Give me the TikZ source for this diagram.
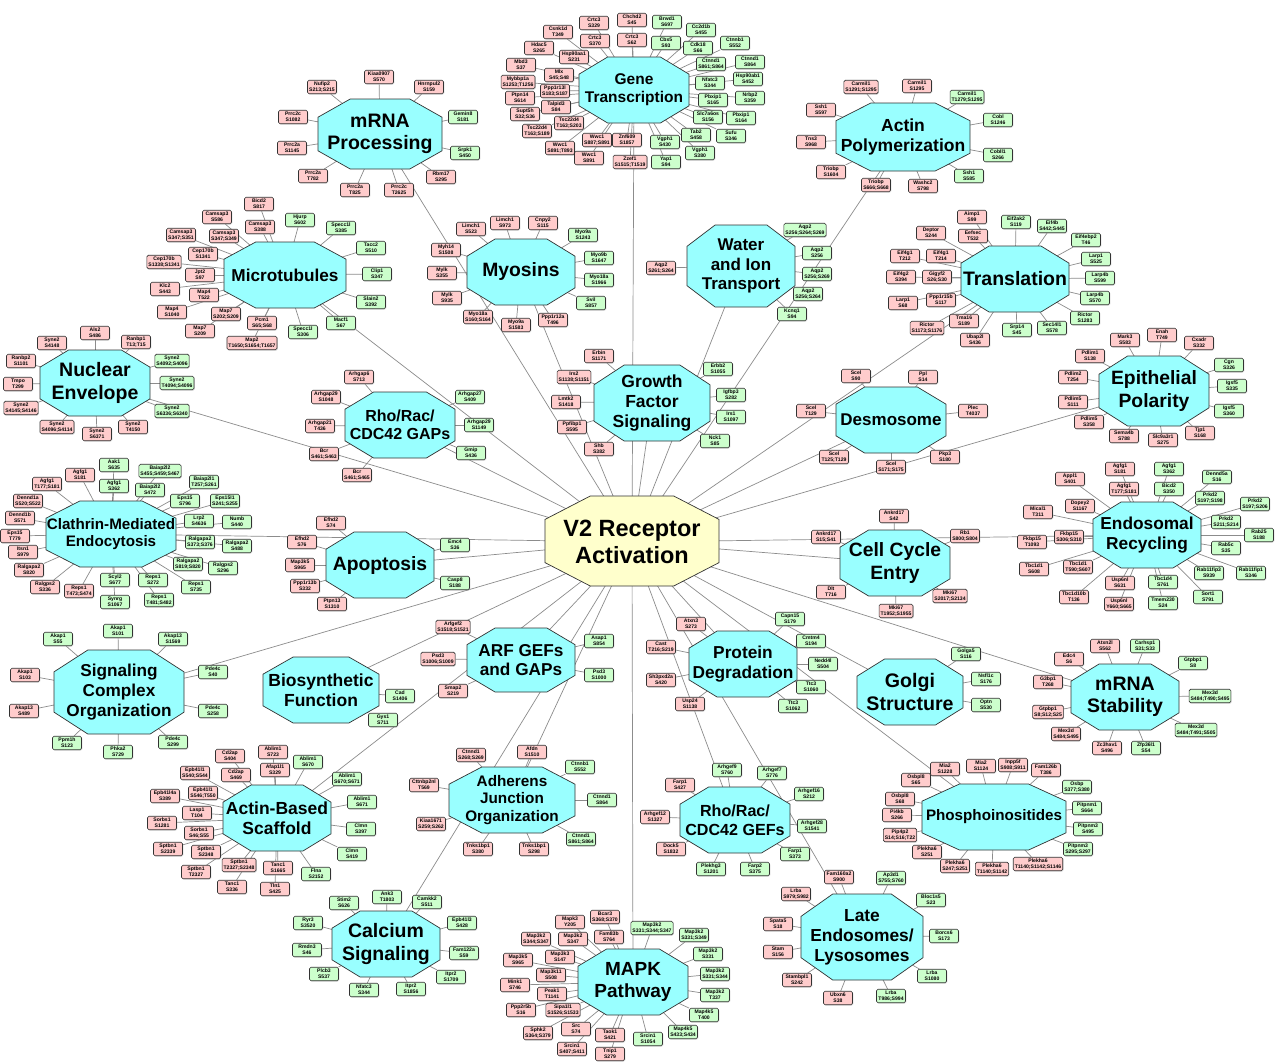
\documentclass[tikz,border=0pt]{standalone}
\usepackage{fontspec}
\setmainfont{Liberation Sans}
\usetikzlibrary{shadows}
\definecolor{pinkc}{RGB}{255,204,204}
\definecolor{greenc}{RGB}{204,255,204}
\definecolor{hubc}{RGB}{153,255,255}
\definecolor{v2c}{RGB}{255,255,204}
\definecolor{edgec}{RGB}{140,140,140}
\definecolor{bordc}{RGB}{50,50,50}
\pgfdeclarelayer{bglayer}
\pgfdeclarelayer{edgelayer}
\pgfdeclarelayer{hublayer}
\pgfsetlayers{bglayer,edgelayer,hublayer,main}
\newcounter{cc}
\tikzset{
  pbox/.style={draw=bordc,line width=0.6pt,fill=pinkc,rounded corners=1.5pt,inner xsep=1.5pt,inner ysep=1pt,
     font=\fontsize{5.1}{6.2}\selectfont\bfseries,align=center,minimum width=29pt,minimum height=13.5pt,
     drop shadow={shadow xshift=0.8pt,shadow yshift=-0.8pt,fill=black!30}},
  gbox/.style={pbox,fill=greenc},
  hubshape/.style={draw=bordc,line width=0.7pt,fill=hubc},
  v2shape/.style={hubshape,fill=v2c},
  link/.style={draw=edgec,line width=0.7pt},
}
\newcommand\edgelist{}
\newcommand\octlist{}
\newcommand\addedge[2]{\xdef\edgelist{\unexpanded\expandafter{\edgelist}\noexpand\draw[link] (#1) -- (#2);}}
\newcommand\octdraw[5]{%
  \filldraw[#1] ({#2-0.48*#4},{#3-#5}) -- ({#2+0.48*#4},{#3-#5}) -- ({#2+#4},{#3-0.48*#5}) -- ({#2+#4},{#3+0.48*#5}) -- ({#2+0.48*#4},{#3+#5}) -- ({#2-0.48*#4},{#3+#5}) -- ({#2-#4},{#3+0.48*#5}) -- ({#2-#4},{#3-0.48*#5}) -- cycle;}
\newcommand\addoct[5]{\xdef\octlist{\unexpanded\expandafter{\octlist}\noexpand\octdraw{#1}{#2}{#3}{#4}{#5}}}
\newcommand\hub[7]{%
  \addoct{hubshape}{#2}{#3}{#4}{#5}%
  \node[inner sep=0pt,align=center,font=\fontsize{#6}{\fpeval{1.15*#6}}\selectfont\bfseries] (#1) at (#2,#3) {#7};
  \addedge{v2}{#1}}
\newcommand\C[5]{%
  \stepcounter{cc}%
  \node[#4box] (n\thecc) at (#2,#3) {#5};
  \addedge{#1}{n\thecc}}
\begin{document}
\begin{tikzpicture}[x=1pt,y=-1pt]
\useasboundingbox (0,0) rectangle (1276,1061);
% central node
\addoct{v2shape}{632}{541}{87}{45}
\node[inner sep=0pt,align=center,font=\fontsize{23.5}{27}\selectfont\bfseries] (v2) at (632,542) {V2 Receptor\\Activation};

% mRNA Processing
\hub{mrp}{380}{134}{62}{35}{19.5}{mRNA\\Processing}
\C{mrp}{379}{77}{p}{Kiaa0907\\S570}
\C{mrp}{322}{87}{p}{Nufip2\\S213;S215}
\C{mrp}{429}{87}{p}{Hnrnpul2\\S159}
\C{mrp}{463}{117}{g}{Gemin8\\S181}
\C{mrp}{465}{153}{g}{Srpk1\\S450}
\C{mrp}{441}{177}{p}{Rbm17\\S295}
\C{mrp}{399}{190}{p}{Prrc2c\\T2625}
\C{mrp}{355}{190}{p}{Prrc2a\\T825}
\C{mrp}{313}{176}{p}{Prrc2a\\T782}
\C{mrp}{292}{148}{p}{Prrc2a\\S1145}
\C{mrp}{293}{117}{p}{Prrc2c\\S1082}

% Gene Transcription
\hub{gt}{634}{90}{55}{33}{15.5}{Gene\\Transcription}
\C{gt}{558}{32}{p}{Csnk1d\\T349}
\C{gt}{594}{23}{p}{Crtc3\\S329}
\C{gt}{595}{41}{p}{Crtc3\\S370}
\C{gt}{632}{20}{p}{Chchd2\\S45}
\C{gt}{632}{40}{p}{Crtc3\\S62}
\C{gt}{539}{48}{p}{Hdac5\\S265}
\C{gt}{574}{57}{p}{Hsp90aa1\\S231}
\C{gt}{521}{65}{p}{Mbd3\\S37}
\C{gt}{559}{75}{p}{Mlx\\S45;S48}
\C{gt}{518}{82}{p}{Mybbp1a\\S1253;T1256}
\C{gt}{555}{91}{p}{Ppp1r13l\\S183;S187}
\C{gt}{520}{98}{p}{Ptpn14\\S614}
\C{gt}{556}{107}{p}{Talpid3\\S84}
\C{gt}{525}{114}{p}{Supt5h\\S32;S36}
\C{gt}{569}{123}{p}{Tsc22d4\\T163;S203}
\C{gt}{537}{131}{p}{Tsc22d4\\T163;S189}
\C{gt}{597}{140}{p}{Wwc1\\S887;S891}
\C{gt}{560}{148}{p}{Wwc1\\S891;T893}
\C{gt}{589}{158}{p}{Wwc1\\S891}
\C{gt}{627}{140}{p}{Znf609\\S1857}
\C{gt}{630}{162}{p}{Zzef1\\S1515;T1519}
\C{gt}{667}{22}{g}{Brwd1\\S697}
\C{gt}{666}{43}{g}{Cbx5\\S93}
\C{gt}{701}{30}{g}{Cc2d1b\\S455}
\C{gt}{698}{48}{g}{Cdk18\\S66}
\C{gt}{735}{43}{g}{Ctnnb1\\S552}
\C{gt}{711}{64}{g}{Ctnnd1\\S861;S864}
\C{gt}{750}{62}{g}{Ctnnd1\\S864}
\C{gt}{710}{83}{g}{Nfatc3\\S344}
\C{gt}{748}{79}{g}{Hsp90ab1\\S452}
\C{gt}{713}{100}{g}{Pbxip1\\S165}
\C{gt}{750}{98}{g}{Nrbp2\\S359}
\C{gt}{708}{117}{g}{Slc7a6os\\S156}
\C{gt}{741}{118}{g}{Pbxip1\\S164}
\C{gt}{696}{135}{g}{Tab2\\S458}
\C{gt}{731}{136}{g}{Sufu\\S346}
\C{gt}{665}{142}{g}{Vgph1\\S430}
\C{gt}{700}{153}{g}{Vgph1\\S380}
\C{gt}{666}{162}{g}{Yap1\\S94}

% Actin Polymerization
\hub{ap}{903}{137}{67}{34}{17.5}{Actin\\Polymerization}
\C{ap}{861}{87}{p}{Carmil1\\S1291;S1295}
\C{ap}{917}{86}{p}{Carmil1\\S1295}
\C{ap}{967}{97}{g}{Carmil1\\T1279;S1295}
\C{ap}{998}{120}{g}{Cobl\\S1246}
\C{ap}{998}{155}{g}{Cobll1\\S266}
\C{ap}{969}{176}{g}{Ssh1\\S585}
\C{ap}{821}{110}{p}{Ssh1\\S597}
\C{ap}{811}{142}{p}{Tns3\\S968}
\C{ap}{831}{172}{p}{Triobp\\S1604}
\C{ap}{876}{185}{p}{Triobp\\S666;S668}
\C{ap}{923}{186}{p}{Washc2\\S798}

% Water and Ion Transport
\hub{wit}{741}{266}{54}{41}{17}{Water\\and Ion\\Transport}
\C{wit}{805}{230}{g}{Aqp2\\S256;S264;S269}
\C{wit}{817}{253}{g}{Aqp2\\S256}
\C{wit}{817}{274}{g}{Aqp2\\S256;S269}
\C{wit}{808}{294}{g}{Aqp2\\S256;S264}
\C{wit}{792}{314}{g}{Kcnq1\\S94}
\C{wit}{661}{268}{p}{Aqp2\\S261;S264}

% Translation
\hub{tr}{1015}{279}{54}{33}{19.5}{Translation}
\C{tr}{972}{217}{p}{Aimp1\\S99}
\C{tr}{973}{236}{p}{Eefsec\\T532}
\C{tr}{931}{233}{p}{Deptor\\S244}
\C{tr}{905}{256}{p}{Eif4g1\\T212}
\C{tr}{941}{256}{p}{Eif4g1\\T214}
\C{tr}{901}{277}{p}{Eif4g2\\S394}
\C{tr}{937}{277}{p}{Gigyf2\\S26;S30}
\C{tr}{903}{303}{p}{Larp1\\S68}
\C{tr}{941}{300}{p}{Ppp1r15b\\S117}
\C{tr}{927}{328}{p}{Rictor\\S1173;S1176}
\C{tr}{964}{321}{p}{Tma16\\S189}
\C{tr}{975}{340}{p}{Ubap2l\\S436}
\C{tr}{1016}{222}{g}{Eif2ak2\\S119}
\C{tr}{1052}{226}{g}{Eif4b\\S442;S445}
\C{tr}{1086}{240}{g}{Eif4ebp2\\T46}
\C{tr}{1096}{259}{g}{Larp1\\S525}
\C{tr}{1100}{278}{g}{Larp4b\\S599}
\C{tr}{1095}{298}{g}{Larp4b\\S570}
\C{tr}{1085}{318}{g}{Rictor\\S1283}
\C{tr}{1052}{328}{g}{Sec14l1\\S578}
\C{tr}{1017}{330}{g}{Srp14\\S45}

% Myosins
\hub{my}{521}{272}{54}{33}{19.3}{Myosins}
\C{my}{471}{229}{p}{Limch1\\S523}
\C{my}{505}{223}{p}{Limch1\\S973}
\C{my}{543}{223}{p}{Cnpy2\\S115}
\C{my}{446}{250}{p}{Myh14\\S1508}
\C{my}{442}{273}{p}{Mylk\\S355}
\C{my}{447}{298}{p}{Mylk\\S935}
\C{my}{478}{317}{p}{Myo18a\\S160;S164}
\C{my}{516}{325}{p}{Myo9a\\S1583}
\C{my}{553}{320}{p}{Ppp1r12a\\T496}
\C{my}{583}{235}{g}{Myo9a\\S1243}
\C{my}{599}{258}{g}{Myo9b\\S1647}
\C{my}{599}{280}{g}{Myo18a\\S1966}
\C{my}{591}{303}{g}{Svil\\S857}

% Microtubules
\hub{mt}{285}{275}{61}{33}{17.2}{Microtubules}
\C{mt}{259}{204}{p}{Bicd2\\S817}
\C{mt}{217}{217}{p}{Camsap3\\S586}
\C{mt}{260}{227}{p}{Camsap3\\S388}
\C{mt}{181}{235}{p}{Camsap3\\S347;S351}
\C{mt}{224}{236}{p}{Camsap3\\S347;S349}
\C{mt}{203}{254}{p}{Cep170b\\S1341}
\C{mt}{164}{262}{p}{Cep170b\\S1338;S1341}
\C{mt}{200}{275}{p}{Jpt2\\S97}
\C{mt}{165}{289}{p}{Klc2\\S443}
\C{mt}{204}{295}{p}{Map4\\T522}
\C{mt}{172}{312}{p}{Map4\\S1040}
\C{mt}{226}{314}{p}{Map7\\S202;S209}
\C{mt}{200}{331}{p}{Map7\\S209}
\C{mt}{262}{323}{p}{Pcm1\\S65;S68}
\C{mt}{252}{343}{p}{Map2\\T1650;S1654;T1657}
\C{mt}{300}{220}{g}{Hjurp\\S602}
\C{mt}{341}{228}{g}{Specc1l\\S385}
\C{mt}{371}{248}{g}{Tacc2\\S510}
\C{mt}{377}{274}{g}{Clip1\\S347}
\C{mt}{371}{302}{g}{Slain2\\S392}
\C{mt}{341}{323}{g}{Macf1\\S67}
\C{mt}{303}{332}{g}{Specc1l\\S306}

% Nuclear Envelope
\hub{ne}{95}{383}{55}{33}{19.5}{Nuclear\\Envelope}
\C{ne}{95}{333}{p}{Als2\\S486}
\C{ne}{52}{343}{p}{Syne2\\S4148}
\C{ne}{136}{342}{p}{Ranbp1\\T13;T15}
\C{ne}{21}{361}{p}{Ranbp2\\S1101}
\C{ne}{18}{384}{p}{Tmpo\\T299}
\C{ne}{21}{408}{p}{Syne2\\S4145;S4146}
\C{ne}{57}{427}{p}{Syne2\\S4096;S4114}
\C{ne}{97}{434}{p}{Syne2\\S6371}
\C{ne}{133}{427}{p}{Syne2\\T4150}
\C{ne}{172}{361}{g}{Syne2\\S4092;S4096}
\C{ne}{177}{383}{g}{Syne2\\T4094;S4096}
\C{ne}{172}{411}{g}{Syne2\\S6336;S6340}

% Rho/Rac/CDC42 GAPs
\hub{gap}{400}{425}{55}{33}{16}{Rho/Rac/\\CDC42 GAPs}
\C{gap}{359}{377}{p}{Arhgap6\\S713}
\C{gap}{326}{397}{p}{Arhgap29\\S1048}
\C{gap}{320}{426}{p}{Arhgap21\\T436}
\C{gap}{324}{454}{p}{Bcr\\S461;S463}
\C{gap}{357}{475}{p}{Bcr\\S461;S465}
\C{gap}{470}{397}{g}{Arhgap27\\S409}
\C{gap}{479}{425}{g}{Arhgap29\\S1149}
\C{gap}{471}{453}{g}{Gmip\\S436}

% Growth Factor Signaling
\hub{gf}{652}{403}{58}{38}{17.5}{Growth\\Factor\\Signaling}
\C{gf}{599}{356}{p}{Erbin\\S1171}
\C{gf}{574}{377}{p}{Irs2\\S1138;S1151}
\C{gf}{566}{402}{p}{Lmtk2\\S1418}
\C{gf}{572}{427}{p}{Ppfibp1\\S595}
\C{gf}{599}{449}{p}{Shb\\S382}
\C{gf}{718}{369}{g}{Erbb2\\S1055}
\C{gf}{731}{395}{g}{Igfbp3\\S282}
\C{gf}{731}{417}{g}{Irs1\\S1097}
\C{gf}{715}{441}{g}{Nck1\\S85}

% Desmosome
\hub{ds}{891}{420}{55}{33}{17}{Desmosome}
\C{ds}{856}{376}{p}{Scel\\S90}
\C{ds}{923}{377}{p}{Ppl\\S14}
\C{ds}{811}{411}{p}{Scel\\T129}
\C{ds}{973}{411}{p}{Plec\\T4037}
\C{ds}{834}{457}{p}{Scel\\T125;T129}
\C{ds}{891}{467}{p}{Scel\\S171;S175}
\C{ds}{945}{457}{p}{Pkp3\\S180}

% Epithelial Polarity
\hub{ep}{1154}{391}{55}{35}{19.3}{Epithelial\\Polarity}
\C{ep}{1090}{356}{p}{Pdlim1\\S138}
\C{ep}{1125}{340}{p}{Mark3\\S583}
\C{ep}{1162}{335}{p}{Enah\\T749}
\C{ep}{1199}{343}{p}{Cxadr\\S332}
\C{ep}{1200}{433}{p}{Tjp1\\S168}
\C{ep}{1163}{440}{p}{Slc9a3r1\\S275}
\C{ep}{1124}{436}{p}{Sema4b\\S788}
\C{ep}{1089}{422}{p}{Pdlim5\\S358}
\C{ep}{1073}{402}{p}{Pdlim5\\S111}
\C{ep}{1073}{377}{p}{Pdlim2\\T254}
\C{ep}{1229}{365}{g}{Cgn\\S326}
\C{ep}{1232}{386}{g}{Igsf5\\S335}
\C{ep}{1229}{411}{g}{Igsf5\\S360}

% Endosomal Recycling
\hub{er}{1147}{535}{54}{33}{17.3}{Endosomal\\Recycling}
\C{er}{1070}{479}{p}{Appl1\\S401}
\C{er}{1120}{469}{p}{Agfg1\\S181}
\C{er}{1124}{489}{p}{Agfg1\\T177;S181}
\C{er}{1080}{506}{p}{Dopey2\\S1167}
\C{er}{1038}{512}{p}{Mical1\\T311}
\C{er}{1069}{537}{p}{Fkbp15\\S306;S310}
\C{er}{1032}{542}{p}{Fkbp15\\T1093}
\C{er}{1034}{569}{p}{Tbc1d1\\S608}
\C{er}{1078}{567}{p}{Tbc1d1\\T590;S607}
\C{er}{1074}{597}{p}{Tbc1d10b\\T136}
\C{er}{1120}{583}{p}{Usp6nl\\S631}
\C{er}{1119}{604}{p}{Usp6nl\\Y660;S665}
\C{er}{1169}{469}{g}{Agfg1\\S362}
\C{er}{1169}{489}{g}{Bicd2\\S350}
\C{er}{1217}{477}{g}{Dennd5a\\S16}
\C{er}{1210}{498}{g}{Prkd2\\S197;S198}
\C{er}{1255}{504}{g}{Prkd2\\S197;S206}
\C{er}{1226}{522}{g}{Prkd2\\S211;S214}
\C{er}{1259}{535}{g}{Rab25\\S188}
\C{er}{1226}{548}{g}{Rab5c\\S35}
\C{er}{1251}{573}{g}{Rab11fip1\\S346}
\C{er}{1209}{573}{g}{Rab11fip3\\S939}
\C{er}{1208}{597}{g}{Sort1\\S791}
\C{er}{1163}{582}{g}{Tbc1d4\\S761}
\C{er}{1163}{603}{g}{Tmem230\\S24}

% Cell Cycle Entry
\hub{cce}{895}{563}{55}{33}{19.3}{Cell Cycle\\Entry}
\C{cce}{894}{516}{p}{Ankrd17\\S42}
\C{cce}{826}{537}{p}{Ankrd17\\S15;S41}
\C{cce}{965}{536}{p}{Rb1\\S800;S804}
\C{cce}{831}{592}{p}{Dlt\\T716}
\C{cce}{896}{611}{p}{Mki67\\T1952;S1955}
\C{cce}{950}{596}{p}{Mki67\\S2017;S2134}

% mRNA Stability
\hub{ms}{1125}{697}{54}{33}{19.5}{mRNA\\Stability}
\C{ms}{1105}{646}{p}{Atxn2l\\S562}
\C{ms}{1069}{659}{p}{Edc4\\S6}
\C{ms}{1048}{682}{p}{G3bp1\\T268}
\C{ms}{1048}{712}{p}{Gtpbp1\\S8;S12;S25}
\C{ms}{1066}{734}{p}{Mex3d\\S484;S495}
\C{ms}{1107}{748}{p}{Zc3hav1\\S496}
\C{ms}{1145}{646}{g}{Carhsp1\\S31;S33}
\C{ms}{1193}{663}{g}{Gtpbp1\\S8}
\C{ms}{1210}{696}{g}{Mex3d\\S484;T490;S495}
\C{ms}{1196}{730}{g}{Mex3d\\S484;T491;S505}
\C{ms}{1146}{748}{g}{Zfp36l1\\S54}

% Golgi Structure
\hub{gs}{910}{692}{53}{33}{19.6}{Golgi\\Structure}
\C{gs}{966}{654}{g}{Golga5\\S116}
\C{gs}{986}{679}{g}{Nsfl1c\\S176}
\C{gs}{986}{705}{g}{Optn\\S530}

% Apoptosis
\hub{apo}{380}{565}{54}{33}{19.3}{Apoptosis}
\C{apo}{331}{523}{p}{Efhd2\\S74}
\C{apo}{302}{542}{p}{Efhd2\\S76}
\C{apo}{300}{565}{p}{Map3k5\\S965}
\C{apo}{305}{586}{p}{Ppp1r13b\\S332}
\C{apo}{332}{604}{p}{Ptpn13\\S1310}
\C{apo}{455}{545}{g}{Emc4\\S36}
\C{apo}{455}{583}{g}{Casp8\\S188}

% Clathrin-Mediated Endocytosis
\hub{cme}{111}{534}{65}{33}{15.2}{Clathrin-Mediated\\Endocytosis}
\C{cme}{114}{465}{g}{Aak1\\S635}
\C{cme}{114}{486}{g}{Agfg1\\S362}
\C{cme}{80}{475}{p}{Agfg1\\S181}
\C{cme}{47}{484}{p}{Agfg1\\T177;S181}
\C{cme}{28}{501}{p}{Dennd1a\\S520;S522}
\C{cme}{20}{518}{p}{Dennd1b\\S571}
\C{cme}{15}{536}{p}{Eps15\\T779}
\C{cme}{23}{552}{p}{Itsn1\\S979}
\C{cme}{29}{570}{p}{Ralgapa2\\S820}
\C{cme}{45}{587}{p}{Ralgps2\\S336}
\C{cme}{79}{591}{p}{Reps1\\T473;S474}
\C{cme}{115}{580}{g}{Scyl2\\S677}
\C{cme}{115}{602}{g}{Synrg\\S1067}
\C{cme}{153}{580}{g}{Reps1\\S272}
\C{cme}{159}{600}{g}{Reps1\\T481;S482}
\C{cme}{196}{587}{g}{Reps1\\S735}
\C{cme}{223}{568}{g}{Ralgps2\\S296}
\C{cme}{188}{564}{g}{Ralgapa2\\S819;S820}
\C{cme}{237}{546}{g}{Ralgapa2\\S488}
\C{cme}{200}{542}{g}{Ralgapa2\\S373;S376}
\C{cme}{237}{522}{g}{Numb\\S440}
\C{cme}{199}{521}{g}{Lrp2\\S4636}
\C{cme}{225}{501}{g}{Eps15l1\\S241;S255}
\C{cme}{185}{501}{g}{Eps15\\S796}
\C{cme}{204}{482}{g}{Baiap2l1\\T257;S261}
\C{cme}{150}{490}{g}{Baiap2l2\\S472}
\C{cme}{160}{471}{g}{Baiap2l2\\S455;S459;S467}

% Signaling Complex Organization
\hub{sco}{119}{692}{65}{42}{17.2}{Signaling\\Complex\\Organization}
\C{sco}{58}{639}{g}{Akap1\\S55}
\C{sco}{118}{631}{g}{Akap1\\S101}
\C{sco}{173}{639}{g}{Akap13\\S1569}
\C{sco}{25}{675}{p}{Akap1\\S103}
\C{sco}{24}{711}{p}{Akap13\\S489}
\C{sco}{213}{672}{g}{Pde4c\\S40}
\C{sco}{213}{711}{g}{Pde4c\\S258}
\C{sco}{173}{742}{g}{Pde4c\\S299}
\C{sco}{118}{752}{g}{Phka2\\S729}
\C{sco}{67}{743}{g}{Ppm1h\\S123}

% Biosynthetic Function
\hub{bf}{321}{690}{58}{33}{17.5}{Biosynthetic\\Function}
\C{bf}{400}{696}{g}{Cad\\S1406}
\C{bf}{383}{720}{g}{Gys1\\S711}

% ARF GEFs and GAPs
\hub{arf}{521}{660}{54}{32}{17.2}{ARF GEFs\\and GAPs}
\C{arf}{453}{627}{p}{Arfgef2\\S1518;S1521}
\C{arf}{438}{659}{p}{Psd3\\S1006;S1009}
\C{arf}{453}{691}{p}{Smap2\\S219}
\C{arf}{599}{641}{g}{Asap1\\S854}
\C{arf}{599}{675}{g}{Psd3\\S1000}

% Protein Degradation
\hub{pd}{743}{664}{54}{33}{17.3}{Protein\\Degradation}
\C{pd}{691}{624}{p}{Atxn3\\S273}
\C{pd}{661}{647}{p}{Cast\\T216;S219}
\C{pd}{661}{680}{p}{Sh3pxd2a\\S420}
\C{pd}{690}{704}{p}{Usp24\\S1138}
\C{pd}{790}{619}{g}{Capn15\\S179}
\C{pd}{811}{641}{g}{Cmtm4\\S194}
\C{pd}{823}{664}{g}{Nedd4l\\S504}
\C{pd}{811}{687}{g}{Ttc3\\S1060}
\C{pd}{793}{706}{g}{Ttc3\\S1062}

% Phosphoinositides
\hub{ph}{994}{817}{72}{33}{15.2}{Phosphoinositides}
\C{ph}{945}{769}{p}{Mia2\\S1228}
\C{ph}{981}{766}{p}{Mia2\\S1124}
\C{ph}{1013}{765}{p}{Inpp5f\\S908;S911}
\C{ph}{1046}{770}{p}{Fam126b\\T386}
\C{ph}{1077}{787}{g}{Osbp\\S377;S380}
\C{ph}{1087}{808}{g}{Pitpnm1\\S664}
\C{ph}{1088}{829}{g}{Pitpnm3\\S495}
\C{ph}{1078}{849}{g}{Pitpnm3\\S295;S297}
\C{ph}{1038}{864}{p}{Plekha6\\T1140;S1142;S1146}
\C{ph}{992}{869}{p}{Plekha6\\T1140;S1142}
\C{ph}{955}{866}{p}{Plekha6\\S247;S251}
\C{ph}{927}{852}{p}{Plekha6\\S251}
\C{ph}{900}{835}{p}{Pip4p2\\S14;S16;T22}
\C{ph}{897}{815}{p}{Pi4kb\\S266}
\C{ph}{900}{799}{p}{Osbpl8\\S68}
\C{ph}{916}{780}{p}{Osbpl8\\S65}

% Rho/Rac/CDC42 GEFs
\hub{gef}{735}{820}{55}{33}{16.1}{Rho/Rac/\\CDC42 GEFs}
\C{gef}{727}{770}{g}{Arhgef9\\S760}
\C{gef}{772}{773}{g}{Arhgef7\\S776}
\C{gef}{680}{785}{p}{Farp1\\S427}
\C{gef}{809}{794}{g}{Arhgef16\\S212}
\C{gef}{655}{817}{p}{Arhgef12\\S1327}
\C{gef}{812}{826}{g}{Arhgef28\\S1541}
\C{gef}{671}{849}{p}{Dock5\\S1832}
\C{gef}{795}{854}{g}{Farp1\\S373}
\C{gef}{711}{869}{g}{Plekhg3\\S1201}
\C{gef}{755}{869}{g}{Farp2\\S375}

% Late Endosomes/Lysosomes
\hub{le}{862}{937}{61}{43}{17.4}{Late\\Endosomes/\\Lysosomes}
\C{le}{839}{877}{p}{Fam160a2\\S900}
\C{le}{891}{878}{g}{Ap3d1\\S755;S760}
\C{le}{796}{894}{p}{Lrba\\S979;S982}
\C{le}{931}{900}{g}{Bloc1s5\\S23}
\C{le}{778}{924}{p}{Spata5\\S18}
\C{le}{944}{936}{g}{Borcs6\\S173}
\C{le}{778}{952}{p}{Stam\\S156}
\C{le}{932}{976}{g}{Lrba\\S1080}
\C{le}{797}{980}{p}{Stambpl1\\S242}
\C{le}{838}{998}{p}{Ubxn6\\S38}
\C{le}{891}{996}{g}{Lrba\\T986;S994}

% Adherens Junction Organization
\hub{aj}{512}{800}{63}{33}{15.3}{Adherens\\Junction\\Organization}
\C{aj}{471}{755}{p}{Ctnnd1\\S268;S269}
\C{aj}{532}{752}{p}{Afdn\\S1510}
\C{aj}{580}{767}{g}{Ctnnb1\\S552}
\C{aj}{602}{800}{g}{Ctnnd1\\S864}
\C{aj}{581}{839}{g}{Ctnnd1\\S861;S864}
\C{aj}{534}{849}{p}{Tnks1bp1\\S298}
\C{aj}{478}{849}{p}{Tnks1bp1\\S380}
\C{aj}{431}{824}{p}{Kiaa1671\\S259;S262}
\C{aj}{424}{785}{p}{Cttnbp2nl\\T569}

% Actin-Based Scaffold
\hub{abs}{277}{818}{54}{33}{17.5}{Actin-Based\\Scaffold}
\C{abs}{230}{756}{p}{Cd2ap\\S404}
\C{abs}{273}{752}{p}{Ablim1\\S723}
\C{abs}{308}{762}{g}{Ablim1\\S670}
\C{abs}{195}{773}{p}{Epb41l1\\S540;S544}
\C{abs}{236}{775}{p}{Cd2ap\\S469}
\C{abs}{275}{770}{p}{Afap1l1\\S329}
\C{abs}{165}{796}{p}{Epb41l4a\\S389}
\C{abs}{203}{793}{p}{Epb41l1\\S546;T550}
\C{abs}{197}{813}{p}{Lasp1\\T104}
\C{abs}{162}{823}{p}{Sorbs1\\S1281}
\C{abs}{199}{833}{p}{Sorbs1\\S46;S55}
\C{abs}{168}{849}{p}{Sptbn1\\S2339}
\C{abs}{206}{852}{p}{Sptbn1\\S2348}
\C{abs}{196}{872}{p}{Sptbn1\\T2327}
\C{abs}{239}{865}{p}{Sptbn1\\T2327;S2348}
\C{abs}{278}{868}{p}{Tanc1\\S1665}
\C{abs}{232}{887}{p}{Tanc1\\S336}
\C{abs}{275}{889}{p}{Tln1\\S425}
\C{abs}{316}{874}{g}{Flna\\S2152}
\C{abs}{352}{854}{g}{Clmn\\S419}
\C{abs}{361}{829}{g}{Clmn\\S397}
\C{abs}{362}{802}{g}{Ablim1\\S671}
\C{abs}{347}{779}{g}{Ablim1\\S670;S671}

% Calcium Signaling
\hub{cs}{386}{944}{54}{33}{19.5}{Calcium\\Signaling}
\C{cs}{387}{897}{g}{Ank3\\T1803}
\C{cs}{344}{903}{g}{Stim2\\S626}
\C{cs}{427}{902}{g}{Camkk2\\S511}
\C{cs}{308}{923}{g}{Ryr3\\S3520}
\C{cs}{462}{923}{g}{Epb41l3\\S428}
\C{cs}{307}{950}{g}{Rmdn3\\S46}
\C{cs}{464}{953}{g}{Fam122a\\S59}
\C{cs}{324}{974}{g}{Plcb3\\S537}
\C{cs}{451}{977}{g}{Itpr2\\S1709}
\C{cs}{411}{989}{g}{Itpr2\\S1856}
\C{cs}{364}{990}{g}{Nfatc3\\S344}

% MAPK Pathway
\hub{mapk}{633}{982}{55}{33}{19}{MAPK\\Pathway}
\C{mapk}{570}{922}{p}{Mapk3\\Y205}
\C{mapk}{605}{917}{p}{Bcar3\\S368;S370}
\C{mapk}{609}{937}{p}{Fam83b\\S764}
\C{mapk}{536}{939}{p}{Map3k2\\S344;S347}
\C{mapk}{573}{939}{p}{Map3k2\\S347}
\C{mapk}{518}{960}{p}{Map3k5\\S965}
\C{mapk}{560}{957}{p}{Map3k3\\S147}
\C{mapk}{551}{975}{p}{Map3k11\\S508}
\C{mapk}{515}{985}{p}{Mink1\\S746}
\C{mapk}{552}{994}{p}{Peak1\\T1141}
\C{mapk}{521}{1010}{p}{Ppp2r5b\\S16}
\C{mapk}{563}{1010}{p}{Sipa1l1\\S1526;S1533}
\C{mapk}{538}{1033}{p}{Sphk2\\S364;S379}
\C{mapk}{576}{1029}{p}{Src\\S74}
\C{mapk}{572}{1049}{p}{Srcin1\\S407;S411}
\C{mapk}{610}{1035}{p}{Taok1\\S421}
\C{mapk}{610}{1054}{p}{Tnip1\\S279}
\C{mapk}{648}{1039}{g}{Srcin1\\S1054}
\C{mapk}{683}{1032}{g}{Map4k5\\S433;S434}
\C{mapk}{704}{1015}{g}{Map4k5\\T400}
\C{mapk}{715}{995}{g}{Map3k2\\T337}
\C{mapk}{715}{974}{g}{Map3k2\\S331;S344}
\C{mapk}{708}{954}{g}{Map3k2\\S331}
\C{mapk}{694}{935}{g}{Map3k2\\S331;S349}
\C{mapk}{652}{928}{g}{Map3k2\\S331;S344;S347}

\begin{pgfonlayer}{hublayer}
\octlist
\end{pgfonlayer}
\begin{pgfonlayer}{edgelayer}
\edgelist
\end{pgfonlayer}
\begin{pgfonlayer}{bglayer}
\fill[white] (0,0) rectangle (1276,1061);
\end{pgfonlayer}
\end{tikzpicture}
\end{document}
